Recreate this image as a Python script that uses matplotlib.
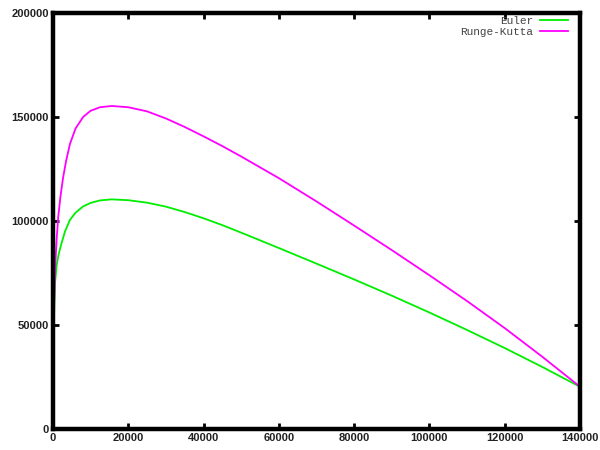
"""Euler vs Runge-Kutta trajectories, gnuplot-like look"""

import matplotlib
matplotlib.use("Agg")
import matplotlib.pyplot as plt

# values
euler_x = [0, 100, 250, 530, 1000, 1500, 2300, 3200, 4500, 6000, 8000, 10000, 12500,
           15600, 20000, 25000, 30000, 35000, 40000, 45000, 50000, 60000, 70000,
           80000, 90000, 100000, 110000, 120000, 130000, 140000]
euler_y = [0, 35000, 52000, 70000, 79000, 84000, 89500, 95000, 100500, 104000,
           107000, 108700, 109900, 110400, 110000, 108800, 106900, 104300, 101300,
           98000, 94400, 87000, 79500, 71900, 64100, 56000, 47600, 38900, 29800, 20300]

rk_x = [0, 150, 530, 1000, 1400, 2000, 2700, 3500, 4500, 6000, 8000, 10000, 12500,
        15600, 20000, 25000, 30000, 35000, 40000, 45000, 50000, 60000, 70000,
        80000, 90000, 100000, 110000, 120000, 130000, 140000]
rk_y = [0, 50000, 76000, 92000, 102000, 112000, 121000, 129000, 137000, 144500,
        150000, 153000, 154700, 155300, 154700, 152700, 149300, 145200, 140700,
        136000, 131000, 120600, 109400, 97800, 86000, 73900, 61500, 48500, 34700, 20300]

x_ticks = [0, 20000, 40000, 60000, 80000, 100000, 120000, 140000]
y_ticks = [0, 50000, 100000, 150000, 200000]

fig = plt.figure(figsize=(6, 4.5), dpi=100)
ax = fig.add_axes([0.0883, 0.0467, 0.8784, 0.9244])

ax.plot(euler_x, euler_y, color="#00ee00", lw=1.3, label="Euler")
ax.plot(rk_x, rk_y, color="#ff00ff", lw=1.3, label="Runge-Kutta")

ax.set_xlim(0, 140000)
ax.set_ylim(0, 200000)
ax.set_xticks(x_ticks)
ax.set_yticks(y_ticks)

for s in ax.spines.values():
  s.set_linewidth(3.2)
ax.tick_params(direction="in", length=4, width=2, top=True, right=True,
               labelsize=8, pad=3)
for lab in ax.get_xticklabels() + ax.get_yticklabels():
  lab.set_fontfamily("Liberation Sans")
  lab.set_fontweight("bold")
  lab.set_color("#222222")

leg = ax.legend(loc="upper right", bbox_to_anchor=(0.978, 0.994), frameon=False,
                markerfirst=False, borderpad=0, borderaxespad=0,
                handlelength=2.6, handletextpad=0.6, labelspacing=0.1,
                prop={"family": "Liberation Mono", "size": 8})
for t in leg.get_texts():
  t.set_color("#444444")

fig.savefig("out.png", dpi=100)
